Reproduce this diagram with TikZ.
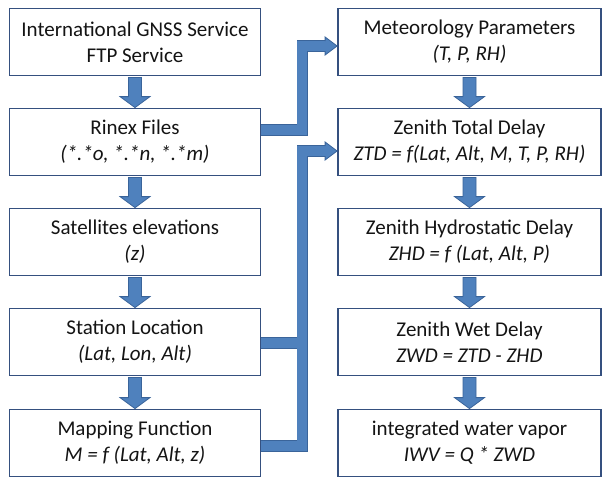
\documentclass[tikz,border=0pt]{standalone}
\usepackage{fontspec}
\setmainfont{Carlito}
\usetikzlibrary{calc}
\definecolor{boxline}{HTML}{35507F}
\definecolor{arrfill}{HTML}{4F81BD}
\definecolor{arredge}{HTML}{3A649A}
\definecolor{txt}{HTML}{141414}

% vertical block arrow from the bottom of #1 to the top of #2
\newcommand\blockdown[2]{%
  \path[blockarrow] let \p1=(#1.south), \p2=(#2.north) in
    (\x1-6.5pt,\y1-1pt) -- (\x1-6.5pt,\y2+11pt) -- (\x1-15pt,\y2+11pt)
    -- (\x1,\y2) -- (\x1+15pt,\y2+11pt) -- (\x1+6.5pt,\y2+11pt)
    -- (\x1+6.5pt,\y1-1pt) -- cycle;}
% arrow head pointing into the west side of #1, shifted down by #2
\newcommand\blockhead[2]{%
  \fill[arrfill] ($(#1.west)+(-12,#2-9)$) -- ($(#1.west)+(0,#2)$)
    -- ($(#1.west)+(-12,#2+9)$) -- cycle;
  \draw[arredge, line width=0.8pt, line join=miter]
    ($(#1.west)+(-12,#2-5)$) -- ($(#1.west)+(-12,#2-9)$) -- ($(#1.west)+(0,#2)$)
    -- ($(#1.west)+(-12,#2+9)$) -- ($(#1.west)+(-12,#2+5)$);}

\begin{document}
\begin{tikzpicture}[x=1pt,y=-1pt,
  box/.style={draw=boxline, line width=1.8pt, fill=white, align=center,
    text=txt, font=\fontsize{21}{26}\selectfont, inner sep=0pt},
  lbox/.style={box, minimum width=251pt, minimum height=67pt},
  rbox/.style={box, minimum width=263pt, minimum height=67pt},
  blockarrow/.style={fill=arrfill, draw=arredge, line width=0.8pt, line join=miter},
  pipe/.style={draw=arredge, line width=0.8pt, double=arrfill,
    double distance=9.5pt, line join=miter}
]
\useasboundingbox (0,0) rectangle (603,477);

% left column
\node[lbox] (igs)     at (135,42)  {International GNSS Service\\FTP Service};
\node[lbox] (rinex)   at (135,142) {Rinex Files\\\textit{(*.*o, *.*n, *.*m)}};
\node[lbox] (sat)     at (135,242) {Satellites elevations\\\textit{(z)}};
\node[lbox] (station) at (135,342) {Station Location\\\textit{(Lat, Lon, Alt)}};
\node[lbox] (map)     at (135,443) {Mapping Function\\\textit{M = f (Lat, Alt, z)}};

% right column
\node[rbox] (met) at (469.5,42)  {Meteorology Parameters\\\textit{(T, P, RH)}};
\node[rbox] (ztd) at (469.5,142) {Zenith Total Delay\\\textit{ZTD = f(Lat, Alt, M, T, P, RH)}};
\node[rbox] (zhd) at (469.5,242) {Zenith Hydrostatic Delay\\\textit{ZHD = f (Lat, Alt, P)}};
\node[rbox] (zwd) at (469.5,342) {Zenith Wet Delay\\\textit{ZWD = ZTD - ZHD}};
\node[rbox] (iwv) at (469.5,443) {integrated water vapor\\\textit{IWV = Q * ZWD}};

% vertical flow
\blockdown{igs}{rinex}
\blockdown{rinex}{sat}
\blockdown{sat}{station}
\blockdown{station}{map}
\blockdown{met}{ztd}
\blockdown{ztd}{zhd}
\blockdown{zhd}{zwd}
\blockdown{zwd}{iwv}

% elbow connectors between the columns
\draw[pipe] ($(rinex.east)+(0,-12)$) -| ($(met.west)+(-35,4)$) -- ($(met.west)+(-11.5,4)$);
\blockhead{met}{4}
\draw[pipe] ($(station.east)+(0,1)$) -- ($(ztd.west |- station.east)+(-35,1)$);
\draw[pipe] ($(map.east)+(0,3)$) -| ($(ztd.west)+(-35,9)$) -- ($(ztd.west)+(-11.5,9)$);
\blockhead{ztd}{9}
\end{tikzpicture}
\end{document}
